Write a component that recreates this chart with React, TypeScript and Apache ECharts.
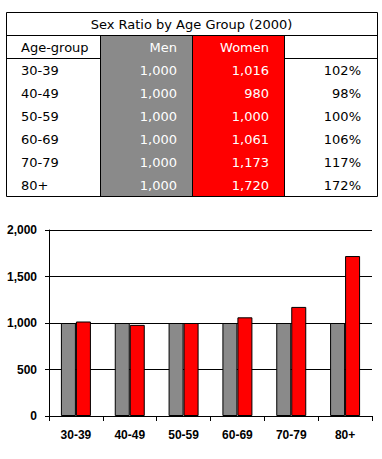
import React, { useEffect, useRef } from "react";
import * as echarts from "echarts";

const ageGroups = ["30-39", "40-49", "50-59", "60-69", "70-79", "80+"];
const menValues = [1000, 1000, 1000, 1000, 1000, 1000];
const womenValues = [1016, 980, 1000, 1061, 1173, 1720];
const ratioLabels = ["102%", "98%", "100%", "106%", "117%", "172%"];
const tableTitle = "Sex Ratio by Age Group (2000)";
const headers = ["Age-group", "Men", "Women", ""];

const GRAY = "#8a8a8a";
const RED = "#ff0000";
const FONT = "DejaVu Sans";

function fmt(v: number): string {
  return v.toLocaleString("en-US");
}

export default function App() {
  const ref = useRef<HTMLDivElement>(null);
  useEffect(() => {
    if (!ref.current) return;
    const chart = echarts.init(ref.current, null, { renderer: "svg" });

    const L = 6, R = 377, T = 12, B = 196;
    const c1 = 100, c2 = 192, c3 = 284;
    const titleB = 35, headB = 58;
    const rowH = (B - headB) / 6;

    const g: any[] = [];
    g.push({ type: "rect", shape: { x: c1, y: titleB, width: c2 - c1, height: B - titleB }, style: { fill: GRAY } });
    g.push({ type: "rect", shape: { x: c2, y: titleB, width: c3 - c2, height: B - titleB }, style: { fill: RED } });
    g.push({ type: "rect", shape: { x: L + 0.5, y: T + 0.5, width: R - L, height: B - T }, style: { fill: "none", stroke: "#000", lineWidth: 1 } });
    const line = (x1: number, y1: number, x2: number, y2: number) =>
      g.push({ type: "line", shape: { x1, y1, x2, y2 }, style: { stroke: "#000", lineWidth: 1 } });
    line(L, titleB + 0.5, R, titleB + 0.5);
    line(L, headB + 0.5, c1, headB + 0.5);
    line(c3, headB + 0.5, R, headB + 0.5);
    [c1, c2, c3].forEach((x) => line(x + 0.5, titleB, x + 0.5, B));

    const txt = (text: string, x: number, y: number, align: string, color: string) =>
      g.push({
        type: "text",
        x,
        y,
        style: { text, fill: color, font: `13px "${FONT}"`, align, verticalAlign: "middle" },
      });
    txt(tableTitle, (L + R) / 2, (T + titleB) / 2 + 1, "center", "#000");
    const headY = (titleB + headB) / 2 + 1;
    txt(headers[0], 21, headY, "left", "#000");
    txt(headers[1], 177, headY, "right", "#fff");
    txt(headers[2], 269, headY, "right", "#fff");
    ageGroups.forEach((a, i) => {
      const y = headB + rowH * (i + 0.5) + 0.5;
      txt(a, 21, y, "left", "#000");
      txt(fmt(menValues[i]), 177, y, "right", "#fff");
      txt(fmt(womenValues[i]), 269, y, "right", "#fff");
      txt(ratioLabels[i], 361, y, "right", "#000");
    });

    chart.setOption({
      animation: false,
      graphic: g,
      grid: { left: 49, right: 10, top: 230, bottom: 43 },
      xAxis: {
        type: "category",
        data: ageGroups,
        axisLine: { lineStyle: { color: "#000", width: 1 } },
        axisTick: { show: true, length: 5, lineStyle: { color: "#000" } },
        axisLabel: { color: "#000", fontFamily: "Liberation Sans", fontWeight: "bold", fontSize: 12, margin: 13 },
      },
      yAxis: {
        type: "value",
        min: 0,
        max: 2000,
        interval: 500,
        axisLine: { show: true, lineStyle: { color: "#000", width: 1 } },
        axisTick: { show: true, length: 4, lineStyle: { color: "#000" } },
        splitLine: { lineStyle: { color: "#000", width: 1 } },
        axisLabel: {
          color: "#000",
          fontFamily: "Liberation Sans",
          fontWeight: "bold",
          fontSize: 12,
          margin: 12,
          formatter: (v: number) => fmt(v),
        },
      },
      series: [
        {
          name: "Men",
          type: "bar",
          data: menValues,
          barWidth: 15,
          barGap: "0%",
          itemStyle: { color: GRAY, borderColor: "#000", borderWidth: 1 },
        },
        {
          name: "Women",
          type: "bar",
          data: womenValues,
          barWidth: 15,
          barGap: "0%",
          itemStyle: { color: RED, borderColor: "#000", borderWidth: 1 },
        },
      ],
    });
    return () => chart.dispose();
  }, []);
  return (
    <div
      ref={ref}
      style={{ position: "fixed", left: 0, top: 0, width: 382, height: 459, background: "#fff" }}
    />
  );
}
